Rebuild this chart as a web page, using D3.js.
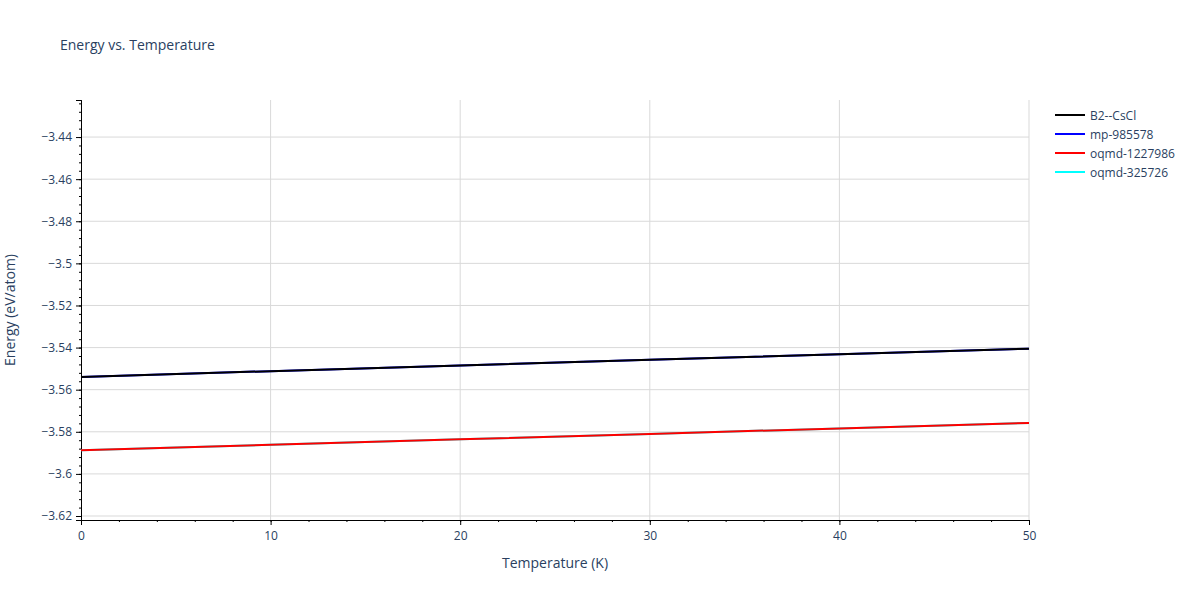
<!DOCTYPE html>
<html><head><meta charset="utf-8">
<script src="https://cdn.jsdelivr.net/npm/d3@7"></script>
<style>body{margin:0;background:#fff}text{font-family:"Open Sans",Arial,sans-serif}</style>
</head><body><svg id="chart"></svg>
<script>
const width = 1200, height = 600;
const temps = [0, 10, 20, 30, 40, 50];
const b2CsCl = [-3.5540, -3.5512, -3.5485, -3.5458, -3.5432, -3.5405];
const mp985578 = [-3.5540, -3.5512, -3.5485, -3.5458, -3.5432, -3.5405];
const oqmd1227986 = [-3.5888, -3.5862, -3.5836, -3.5810, -3.5784, -3.5758];
const oqmd325726 = [-3.5888, -3.5862, -3.5836, -3.5810, -3.5784, -3.5758];
const yTicks = [-3.44, -3.46, -3.48, -3.5, -3.52, -3.54, -3.56, -3.58, -3.6, -3.62];
const series = [
  {name: "B2--CsCl", values: b2CsCl, color: "#000000"},
  {name: "mp-985578", values: mp985578, color: "#0000ff"},
  {name: "oqmd-1227986", values: oqmd1227986, color: "#ff0000"},
  {name: "oqmd-325726", values: oqmd325726, color: "#00ffff"}
];
const drawOrder = [1, 0, 3, 2];

const svg = d3.select("#chart").attr("width", width).attr("height", height);
const plotL = 81, plotR = 1029, plotT = 100, plotB = 520;
const xScale = d3.scaleLinear().domain([0, 50]).range([plotL, plotR]);
const yScale = d3.scaleLinear().domain([-3.6219, -3.4224]).range([plotB, plotT]);

// grid
svg.append("g").selectAll("line").data(d3.range(10, 51, 10)).join("line")
  .attr("x1", d => xScale(d)).attr("x2", d => xScale(d))
  .attr("y1", plotT).attr("y2", plotB).attr("stroke", "#d9d9d9");
svg.append("g").selectAll("line").data(yTicks).join("line")
  .attr("x1", plotL).attr("x2", plotR)
  .attr("y1", d => yScale(d)).attr("y2", d => yScale(d)).attr("stroke", "#d9d9d9");

// axes
svg.append("g").attr("transform", "translate(0," + plotB + ")")
  .call(d3.axisBottom(xScale).tickValues(d3.range(0, 51, 10)).tickSize(5).tickPadding(6));
svg.append("g").attr("transform", "translate(0," + plotB + ")")
  .call(d3.axisBottom(xScale).tickValues(d3.range(0, 51, 2)).tickSize(2).tickFormat(""));
svg.append("g").attr("transform", "translate(" + plotL + ",0)")
  .call(d3.axisLeft(yScale).tickValues(yTicks).tickSize(5).tickPadding(4)
    .tickFormat(d => d3.format("")(d).replace("-", "\u2212")));
svg.append("g").attr("transform", "translate(" + plotL + ",0)")
  .call(d3.axisLeft(yScale).tickValues(d3.range(-3.62, -3.422, 0.004)).tickSize(2).tickFormat(""));
svg.selectAll(".domain").attr("stroke", "#000");
svg.selectAll(".tick line").attr("stroke", "#000");
svg.selectAll(".tick text").attr("fill", "#2a3f5f").attr("font-size", 12)
  .attr("font-family", "'Open Sans', Arial, sans-serif");

// lines
const line = d3.line().x((d, i) => xScale(temps[i])).y(d => yScale(d));
drawOrder.forEach(i => {
  svg.append("path").attr("d", line(series[i].values)).attr("fill", "none")
    .attr("stroke", series[i].color).attr("stroke-width", 2);
});

// titles
svg.append("text").attr("x", 60).attr("y", 50).attr("font-size", 14).attr("fill", "#2a3f5f")
  .text("Energy vs. Temperature");
svg.append("text").attr("x", (plotL + plotR) / 2).attr("y", 568).attr("text-anchor", "middle")
  .attr("font-size", 14).attr("fill", "#2a3f5f").text("Temperature (K)");
svg.append("text").attr("transform", "translate(15," + (plotT + plotB) / 2 + ") rotate(-90)")
  .attr("text-anchor", "middle").attr("font-size", 14).attr("fill", "#2a3f5f").text("Energy (eV/atom)");

// legend
const legend = svg.append("g").attr("transform", "translate(1055,115)");
series.forEach((s, i) => {
  const g = legend.append("g").attr("transform", "translate(0," + i * 19 + ")");
  g.append("line").attr("x1", 0).attr("x2", 30).attr("stroke", s.color).attr("stroke-width", 2);
  g.append("text").attr("x", 35).attr("y", 4.5).attr("font-size", 12).attr("fill", "#2a3f5f").text(s.name);
});
</script></body></html>
